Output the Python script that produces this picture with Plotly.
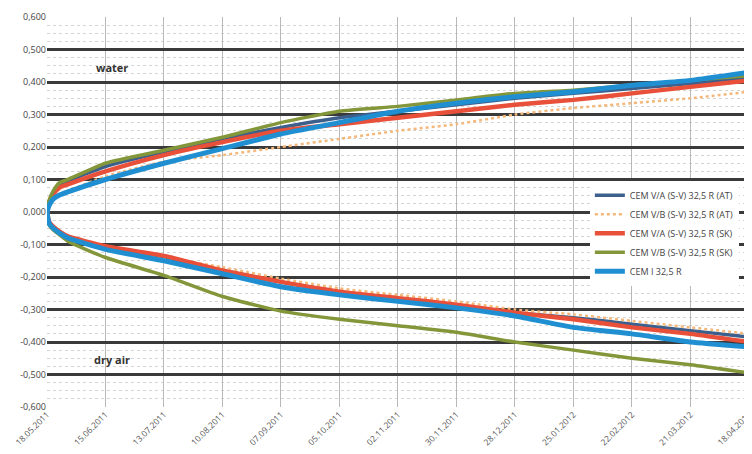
import plotly.graph_objects as go

dates = ["2011-05-18", "2011-05-19", "2011-05-21", "2011-05-24", "2011-05-28",
         "2011-06-15", "2011-07-13", "2011-08-10", "2011-09-07", "2011-10-05",
         "2011-11-02", "2011-11-30", "2011-12-28", "2012-01-25", "2012-02-22",
         "2012-03-21", "2012-04-18"]

tick_dates = ["2011-05-18", "2011-06-15", "2011-07-13", "2011-08-10", "2011-09-07",
              "2011-10-05", "2011-11-02", "2011-11-30", "2011-12-28", "2012-01-25",
              "2012-02-22", "2012-03-21", "2012-04-18"]
tick_labels = ["18.05.2011", "15.06.2011", "13.07.2011", "10.08.2011", "07.09.2011",
               "05.10.2011", "02.11.2011", "30.11.2011", "28.12.2011", "25.01.2012",
               "22.02.2012", "21.03.2012", "18.04.2012"]

y_ticks = [0.6, 0.5, 0.4, 0.3, 0.2, 0.1, 0.0, -0.1, -0.2, -0.3, -0.4, -0.5, -0.6]
y_labels = ["0,600", "0,500", "0,400", "0,300", "0,200", "0,100", "0,000",
            "-0,100", "-0,200", "-0,300", "-0,400", "-0,500", "-0,600"]

series_names = ["CEM V/A (S-V) 32,5 R (AT)", "CEM V/B (S-V) 32,5 R (AT)",
                "CEM V/A (S-V) 32,5 R (SK)", "CEM V/B (S-V) 32,5 R (SK)",
                "CEM I 32,5 R"]

# water storage (expansion)
water_va_at = [0, 0.03, 0.06, 0.08, 0.095, 0.14, 0.185, 0.225, 0.26, 0.29, 0.31, 0.33, 0.35, 0.365, 0.38, 0.395, 0.415]
water_vb_at = [0, 0.02, 0.04, 0.055, 0.065, 0.11, 0.155, 0.175, 0.20, 0.225, 0.25, 0.27, 0.30, 0.32, 0.335, 0.35, 0.37]
water_va_sk = [0, 0.03, 0.055, 0.075, 0.085, 0.125, 0.175, 0.215, 0.25, 0.27, 0.29, 0.31, 0.33, 0.345, 0.365, 0.385, 0.405]
water_vb_sk = [0, 0.035, 0.065, 0.09, 0.10, 0.15, 0.19, 0.23, 0.275, 0.31, 0.325, 0.345, 0.365, 0.375, 0.39, 0.405, 0.42]
water_cem1 = [0, 0.02, 0.04, 0.052, 0.062, 0.10, 0.15, 0.195, 0.24, 0.275, 0.31, 0.335, 0.355, 0.37, 0.39, 0.405, 0.43]

# dry air storage (shrinkage)
dry_va_at = [0, -0.03, -0.045, -0.06, -0.075, -0.11, -0.145, -0.18, -0.215, -0.245, -0.27, -0.29, -0.31, -0.325, -0.345, -0.365, -0.385]
dry_vb_at = [0, -0.03, -0.045, -0.06, -0.075, -0.11, -0.14, -0.17, -0.205, -0.235, -0.255, -0.275, -0.30, -0.315, -0.335, -0.355, -0.375]
dry_va_sk = [0, -0.03, -0.045, -0.06, -0.075, -0.105, -0.135, -0.18, -0.215, -0.245, -0.265, -0.285, -0.31, -0.33, -0.355, -0.375, -0.40]
dry_vb_sk = [0, -0.04, -0.055, -0.07, -0.09, -0.14, -0.195, -0.26, -0.305, -0.33, -0.35, -0.37, -0.40, -0.425, -0.45, -0.47, -0.495]
dry_cem1 = [0, -0.035, -0.05, -0.065, -0.08, -0.115, -0.15, -0.19, -0.23, -0.255, -0.275, -0.295, -0.32, -0.355, -0.375, -0.40, -0.415]

water = [water_va_at, water_vb_at, water_va_sk, water_vb_sk, water_cem1]
dry = [dry_va_at, dry_vb_at, dry_va_sk, dry_vb_sk, dry_cem1]
colors = ["#3d5f8c", "#f4b87a", "#e8503a", "#84963a", "#1f8fd2"]
widths = [3.5, 2.5, 4.5, 3.5, 5]
dashes = ["solid", "dot", "solid", "solid", "solid"]

fig = go.Figure()
for name, w, d, c, lw, ds in zip(series_names, water, dry, colors, widths, dashes):
    fig.add_trace(go.Scatter(
        x=dates + [None] + dates,
        y=w + [None] + d,
        mode="lines", name=name,
        line=dict(color=c, width=lw, dash=ds, shape="spline", smoothing=0.5),
        connectgaps=False,
    ))

fig.add_annotation(x="2011-06-18", y=0.445, text="<b>water</b>", showarrow=False,
                   font=dict(family="Open Sans", size=11, color="#333"))
fig.add_annotation(x="2011-06-18", y=-0.455, text="<b>dry air</b>", showarrow=False,
                   font=dict(family="Open Sans", size=11, color="#333"))

# page body has an 8px default margin, so the figure is sized/offset to compensate
fig.update_layout(
    width=744, height=446,
    margin=dict(l=39, r=0, t=9, b=47),
    plot_bgcolor="white", paper_bgcolor="white",
    font=dict(family="Open Sans", size=9, color="#555"),
    showlegend=True,
    legend=dict(x=0.77, y=0.58, xanchor="left", yanchor="top",
                bgcolor="white", borderwidth=0,
                font=dict(family="Open Sans", size=9, color="#444"),
                tracegroupgap=0, itemwidth=30),
    xaxis=dict(
        type="date", range=["2011-05-18", "2012-04-19 12:00"], automargin=False,
        tickmode="array", tickvals=tick_dates, ticktext=tick_labels,
        tickangle=-45, showgrid=True, gridcolor="#b8b8b8", gridwidth=1,
        zeroline=False, showline=False, ticks="", ticklabeloverflow="allow",
        tickfont=dict(family="Open Sans", size=8.5, color="#555"),
    ),
    yaxis=dict(
        range=[-0.6, 0.6], tickmode="array", tickvals=y_ticks, ticktext=y_labels,
        automargin=False,
        showgrid=True, gridcolor="#3a3a3a", gridwidth=2.5,
        zeroline=True, zerolinecolor="#3a3a3a", zerolinewidth=2.5,
        showline=False, ticks="",
        tickfont=dict(family="Open Sans", size=9, color="#444"),
        minor=dict(dtick=0.025, showgrid=True, gridcolor="#d4d4d4",
                   griddash="dot", gridwidth=1),
    ),
)

fig.write_html("out.html")
